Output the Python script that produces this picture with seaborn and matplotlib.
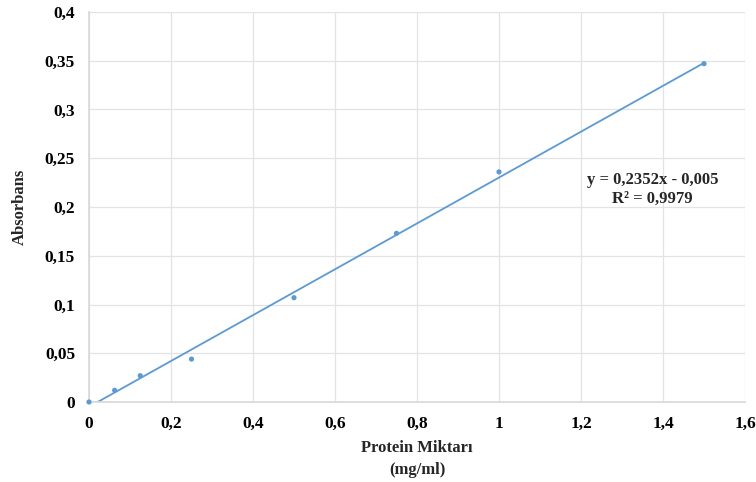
import numpy as np
import pandas as pd
import matplotlib
matplotlib.use("Agg")
import matplotlib.pyplot as plt
from matplotlib.ticker import FuncFormatter, MultipleLocator
import seaborn as sns

# Standard curve measurements
protein = [0, 0.0625, 0.125, 0.25, 0.5, 0.75, 1.0, 1.5]
absorbance = [0.0, 0.012, 0.027, 0.044, 0.107, 0.173, 0.236, 0.347]

# Linear trendline coefficients
slope = 0.2352
intercept = -0.005
r_squared = 0.9979

sns.set_theme(style="white")
plt.rcParams["font.family"] = ["Liberation Serif", "DejaVu Serif"]
plt.rcParams["font.weight"] = "bold"

fig = plt.figure(figsize=(7.56, 4.82), dpi=100)
ax = fig.add_axes([89 / 756, 80 / 482, 656 / 756, 390 / 482])

df = pd.DataFrame({"x": protein, "y": absorbance})
color = "#5b9bd5"

xs = np.array([0.0, 1.5])
trend = pd.DataFrame({"x": xs, "y": slope * xs + intercept})
sns.lineplot(data=trend, x="x", y="y", ax=ax, color=color, linewidth=1.3)
sns.scatterplot(data=df, x="x", y="y", ax=ax, color=color, s=14,
                edgecolor="none", zorder=3, clip_on=False)

ax.set_xlim(0, 1.6)
ax.set_ylim(0, 0.4)
ax.xaxis.set_major_locator(MultipleLocator(0.2))
ax.yaxis.set_major_locator(MultipleLocator(0.05))


def comma(v, pos):
    s = f"{v:.2f}".rstrip("0").rstrip(".")
    return s.replace(".", ",")


ax.xaxis.set_major_formatter(FuncFormatter(comma))
ax.yaxis.set_major_formatter(FuncFormatter(comma))

ax.grid(True, color="#e3e3e3", linewidth=0.9)
ax.set_axisbelow(True)
for side in ["top", "right"]:
    ax.spines[side].set_visible(False)
ax.spines["left"].set_color("#d9d9d9")
ax.spines["bottom"].set_color("#d9d9d9")
ax.tick_params(axis="both", length=0, labelsize=12.5, colors="black")
ax.tick_params(axis="x", pad=10)
ax.tick_params(axis="y", pad=10)
for lbl in ax.get_xticklabels() + ax.get_yticklabels():
    lbl.set_fontweight("bold")

ax.set_xlabel("Protein Miktarı\n(mg/ml)", fontsize=12, fontweight="bold",
              linespacing=1.45, labelpad=6)
ax.set_ylabel("Absorbans", fontsize=12, fontweight="bold", labelpad=12)

ax.text(1.375, 0.228, f"y = {slope:.4f}x - {abs(intercept):.3f}".replace(".", ","),
        ha="center", va="center", fontsize=12, fontweight="bold")
ax.text(1.375, 0.2085, f"R² = {r_squared:.4f}".replace(".", ","),
        ha="center", va="center", fontsize=12, fontweight="bold")

fig.savefig("out.png", dpi=100)
